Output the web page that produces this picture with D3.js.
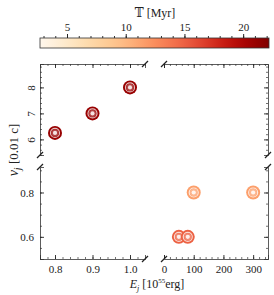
<!DOCTYPE html>
<html>
<head>
<meta charset="utf-8">
<script src="https://cdn.jsdelivr.net/npm/d3@7"></script>
<style>
  body { margin: 0; background: #fff; }
  text { font-family: "Liberation Serif", "DejaVu Serif", serif; fill: #222; }
</style>
</head>
<body>
<div id="chart"></div>
<script>
// data
const energyLow = [0.8, 0.9, 1.0];
const velocityLow = [6.25, 7, 8];
const timeLow = [21, 21, 21];

const energyHigh = [50, 80, 100, 300];
const velocityHigh = [0.6, 0.6, 0.8, 0.8];
const timeHigh = [15, 15, 11.5, 11.5];

const cbTicks = [5, 10, 15, 20];
const xLowTicks = [0.8, 0.9, 1.0];
const xHighTicks = [0, 100, 200, 300];
const yTopTicks = [6, 7, 8];
const yBotTicks = [0.6, 0.8];

const W = 274, H = 295;
const L = {x0: 40, x1: 145}, R = {x0: 164, x1: 268};
const T = {y0: 64, y1: 155}, B = {y0: 167, y1: 259};

const svg = d3.select('#chart').append('svg')
  .attr('width', W).attr('height', H);

const cbScale = d3.scaleLinear().domain([2.7, 22.2]).range([40, 269]);
const color = t => d3.interpolateOrRd((t - 2.7) / 19.5);

const xL = d3.scaleLinear().domain([0.76, 1.04]).range([L.x0, L.x1]);
const xR = d3.scaleLinear().domain([0, 350]).range([R.x0, R.x1]);
const yT = d3.scaleLinear().domain([5.4, 8.9]).range([T.y1, T.y0]);
const yB = d3.scaleLinear().domain([0.5, 0.915]).range([B.y1, B.y0]);

// colorbar
const defs = svg.append('defs');
const grad = defs.append('linearGradient').attr('id', 'cbgrad');
d3.range(0, 1.001, 0.05).forEach(t => {
  grad.append('stop').attr('offset', t).attr('stop-color', d3.interpolateOrRd(t));
});
svg.append('rect')
  .attr('x', 40).attr('y', 38).attr('width', 229).attr('height', 10)
  .attr('fill', 'url(#cbgrad)').attr('stroke', '#333').attr('stroke-width', 0.8);

svg.append('g')
  .attr('transform', 'translate(0,38)')
  .call(d3.axisTop(cbScale).tickValues(d3.range(3, 23)).tickSize(2).tickFormat(''))
  .call(g => g.select('.domain').remove())
  .call(g => g.selectAll('line').attr('stroke', '#333'));
svg.append('g')
  .attr('transform', 'translate(0,38)')
  .call(d3.axisTop(cbScale).tickValues(cbTicks).tickSize(4).tickPadding(3))
  .call(g => g.select('.domain').remove())
  .call(g => g.selectAll('line').attr('stroke', '#222'))
  .call(g => g.selectAll('text').attr('font-size', 11).attr('font-family', '"Liberation Serif", serif').attr('fill', '#222'));

svg.append('text')
  .attr('x', 155).attr('y', 17)
  .attr('text-anchor', 'middle').attr('font-size', 12)
  .text('\u{1D54B} [Myr]');

// helper for axes with major + minor ticks
function drawAxis(axisFn, scale, major, minor, transform, labels, rotate) {
  svg.append('g').attr('transform', transform)
    .call(axisFn(scale).tickValues(minor).tickSize(-2).tickFormat(''))
    .call(g => g.select('.domain').remove())
    .call(g => g.selectAll('line').attr('stroke', '#333').attr('stroke-width', 0.7));
  const g = svg.append('g').attr('transform', transform)
    .call(axisFn(scale).tickValues(major).tickSize(-4).tickPadding(6)
      .tickFormat(labels ? labels : ''));
  g.selectAll('.tick line').attr('stroke', '#222').attr('stroke-width', 0.9);
  g.select('.domain').attr('stroke', '#333').attr('stroke-width', 0.8);
  g.selectAll('text').attr('font-size', 11).attr('font-family', '"Liberation Serif", serif').attr('fill', '#222');
  if (rotate) {
    g.selectAll('.tick text')
      .attr('transform', 'rotate(-90)')
      .attr('x', 0).attr('y', -9)
      .attr('text-anchor', 'middle').attr('dy', '0.35em');
  }
  return g;
}

const minorXL = d3.range(0.76, 1.041, 0.02).map(v => +v.toFixed(2));
const minorXR = d3.range(0, 341, 20);
const minorYT = d3.range(5.4, 8.81, 0.2).map(v => +v.toFixed(1));
const minorYB = d3.range(0.5, 0.91, 0.05).map(v => +v.toFixed(2));

// top-left: top + left spines
drawAxis(d3.axisTop, xL, xLowTicks, minorXL, `translate(0,${T.y0})`, null);
drawAxis(d3.axisLeft, yT, yTopTicks, minorYT, `translate(${L.x0},0)`, d3.format('d'), true);
// top-right: top + right spines
drawAxis(d3.axisTop, xR, xHighTicks, minorXR, `translate(0,${T.y0})`, null);
drawAxis(d3.axisRight, yT, yTopTicks, minorYT, `translate(${R.x1},0)`, null);
// bottom-left: bottom + left spines
drawAxis(d3.axisBottom, xL, xLowTicks, minorXL, `translate(0,${B.y1})`, d3.format('.1f'));
drawAxis(d3.axisLeft, yB, yBotTicks, minorYB, `translate(${L.x0},0)`, d3.format('.1f'));
// bottom-right: bottom + right spines
drawAxis(d3.axisBottom, xR, xHighTicks, minorXR, `translate(0,${B.y1})`, d3.format('d'));
drawAxis(d3.axisRight, yB, yBotTicks, minorYB, `translate(${R.x1},0)`, null);

// broken-axis marks
const breaks = [
  [L.x1, T.y0], [L.x0, T.y1], [R.x0, T.y0], [R.x1, T.y1],
  [L.x0, B.y0], [L.x1, B.y1], [R.x0, B.y1], [R.x1, B.y0]
];
svg.append('g').selectAll('line').data(breaks).join('line')
  .attr('x1', d => d[0] - 3).attr('y1', d => d[1] + 3)
  .attr('x2', d => d[0] + 3).attr('y2', d => d[1] - 3)
  .attr('stroke', '#222').attr('stroke-width', 1.3);

// markers
function drawPoints(xs, ys, ts, sx, sy) {
  const data = xs.map((x, i) => ({x, y: ys[i], t: ts[i]}));
  const g = svg.append('g').selectAll('g').data(data).join('g')
    .attr('transform', d => `translate(${sx(d.x)},${sy(d.y)})`);
  g.append('circle').attr('r', 7).attr('fill', d => color(d.t));
  g.append('circle').attr('r', 4.5).attr('fill', 'none')
    .attr('stroke', '#fff').attr('stroke-opacity', 0.75).attr('stroke-width', 1.2);
  g.append('circle').attr('r', 3.7).attr('fill', d => d3.interpolateRgb(color(d.t), '#fff')(0.25));
  g.append('circle').attr('r', 2.1).attr('fill', '#fff').attr('fill-opacity', 0.85);
}
drawPoints(energyLow, velocityLow, timeLow, xL, yT);
drawPoints(energyHigh, velocityHigh, timeHigh, xR, yB);

// axis labels
const yl = svg.append('text')
  .attr('transform', 'translate(18,150) rotate(-90)')
  .attr('text-anchor', 'middle').attr('font-size', 14);
yl.append('tspan').attr('font-style', 'italic').text('v');
yl.append('tspan').attr('font-style', 'italic').attr('font-size', 10).attr('dy', 3).text('j');
yl.append('tspan').attr('dy', -3).attr('font-size', 13).text(' [0.01 c]');

const xlab = svg.append('text')
  .attr('x', 157).attr('y', 288)
  .attr('text-anchor', 'middle').attr('font-size', 12);
xlab.append('tspan').attr('font-style', 'italic').text('E');
xlab.append('tspan').attr('font-style', 'italic').attr('font-size', 8).attr('dy', 2.5).text('j');
xlab.append('tspan').attr('dy', -2.5).text(' [10');
xlab.append('tspan').attr('font-size', 7).attr('dy', -5).text('55');
xlab.append('tspan').attr('dy', 5).text('erg]');
</script>
</body>
</html>
